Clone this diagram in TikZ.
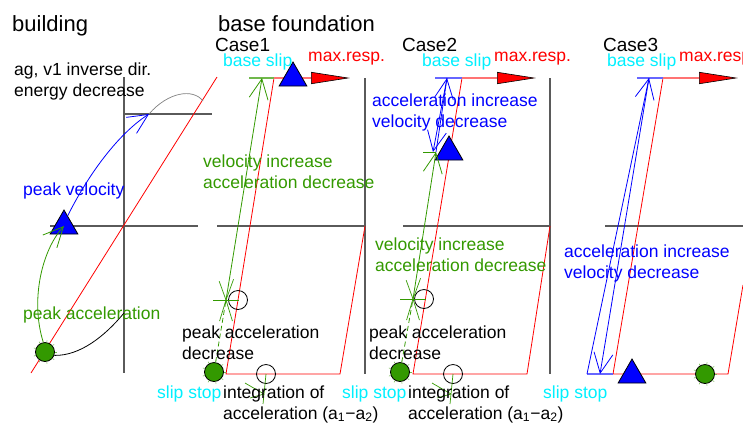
\documentclass[tikz,border=0pt]{standalone}
\usepackage{fontspec}
\setmainfont{Liberation Sans}
\usetikzlibrary{positioning, arrows.meta, calc, shapes.geometric}
\definecolor{axisgray}{RGB}{90,90,90}
\definecolor{accgreen}{RGB}{51,153,0}
\definecolor{slipcyan}{RGB}{0,240,255}

\newcommand{\sparkmark}[1]{%
  \foreach \a/\l in {0/13,180/13,73/22,107/22,250/20,290/22}
    \draw[accgreen, line width=0.7pt] (#1) -- ++(\a:\l);}

\begin{document}
\begin{tikzpicture}[
    x=1pt, y=-1pt,
    axis/.style={draw=axisgray, line width=1.3pt},
    resp/.style={draw=red, line width=0.8pt},
    toppath/.style={line width=2pt},
    lbl/.style={font=\fontsize{17.5}{21}\selectfont, inner sep=0pt,
                anchor=base west, align=left},
    ttl/.style={font=\fontsize{22}{26}\selectfont, inner sep=0pt,
                anchor=base west},
    casettl/.style={font=\fontsize{19}{22}\selectfont, inner sep=0pt,
                    anchor=base west},
    peak/.style={regular polygon, regular polygon sides=3, fill=blue,
                 draw=black, line width=0.8pt, minimum size=32pt, inner sep=0pt},
    ball/.style={circle, fill=accgreen, draw=black, line width=0.8pt,
                 minimum size=19pt, inner sep=0pt},
    ring/.style={circle, draw=black, line width=0.8pt, minimum size=19pt,
                 inner sep=0pt},
    barb/.style={-{Straight Barb[length=20pt, width=19pt]}},
    accarr/.style={barb, draw=accgreen, line width=0.8pt},
    velarr/.style={barb, draw=blue, line width=0.8pt},
    trail/.style={accgreen, line width=0.8pt, dash pattern=on 5pt off 3pt},
    maxresp/.style={draw=red!55, line width=2pt,
        -{Triangle[length=39pt, width=12pt, color=black, fill=red, line width=0.6pt]}},
]
\useasboundingbox (0,0) rectangle (743,424);

% ══════════════════════════════════════
%  BUILDING
% ══════════════════════════════════════

\node[ttl] (tbuild) at (12,31) {building};

\coordinate (bvt) at (124,77);
\coordinate (bvb) at (124,373);
\coordinate (bhl) at (124,114);
\coordinate (bhr) at (212,114);
\coordinate (bhv) at (149,114);
\coordinate (bml) at (50,226);
\coordinate (bmr) at (198,226);
\coordinate (brl) at (31,373);
\coordinate (bru) at (217,77);
\coordinate (bgr) at (203,101);
\coordinate (bacc) at (124,313);

\draw[axis] (bvt) -- (bvb);
\draw[axis] (bhl) -- (bhr);
\draw[axis] (bml) -- (bmr);
\draw[resp] (brl) -- (bru);

\node[peak] (bpeak) at (64,226) {};
\node[ball] (bball) at (45,352) {};

% velocity / acceleration paths
\draw[velarr] (bpeak.70) .. controls (88,175) and (118,134) .. (bhv);
\draw[gray, line width=0.7pt] (bhv) .. controls (168,92) and (193,88) .. (bgr);
\draw[accarr] (bball.100) .. controls (30,300) and (42,250) .. (bpeak.center);
\draw[black, line width=0.8pt] (bball.-20) .. controls (80,356) and (105,336) .. (bacc);

% multi-line labels sit on the baseline of their last line
\node[lbl] (tinv) at (14,96) {ag, v1 inverse dir.\\energy decrease};
\node[lbl, text=blue] (tpv) at (23,195) {peak velocity};
\node[lbl, text=accgreen] (tpa) at (23,319) {peak acceleration};

% ══════════════════════════════════════
%  BASE FOUNDATION: Case1
% ══════════════════════════════════════

\node[ttl] (tbase) at (218,31) {base foundation};
\node[casettl] (tc1) at (215,51) {Case1};

\coordinate (c1axl) at (217,226);
\coordinate (c1axr) at (365,226);
\coordinate (c1vt) at (365,78);
\coordinate (c1vb) at (365,374);
\coordinate (c1slip) at (249,78);
\coordinate (c1top) at (274,78);
\coordinate (c1bl) at (226,374);
\coordinate (c1br) at (340,374);
\coordinate (c1mx) at (350,78);
\coordinate (c1hit) at (262,78);
\coordinate (c1star) at (226,300);
\coordinate (c1sum) at (264,394);

\draw[axis] (c1axl) -- (c1axr);
\draw[axis] (c1vt) -- (c1vb);
\draw[resp] (c1top) -- (c1bl) -- (c1br) -- (c1axr);
\draw[toppath, draw=accgreen!70] (c1slip) -- (c1top);
\draw[maxresp] (c1top) -- (c1mx);

\node[peak] (c1peak) at (293,78) {};
\node[ball] (c1ball) at (214,372) {};
\node[ring] (c1ring) at (238,300) {};
\node[ring] (c1ring2) at (266,374) {};

\draw[trail] (c1ball) -- (c1star);
\draw[accarr] (c1star) -- (c1hit);
\sparkmark{c1star}
\draw[accgreen, line width=0.7pt] (c1sum) -- (c1ring2.center);
\draw[accgreen, line width=0.7pt] (c1sum) -- ++(-19,-11);
\draw[accgreen, line width=0.7pt] (c1sum) -- ++(-14,4);
\draw[accgreen, line width=0.7pt] (c1sum) -- ++(-1,10);

\node[lbl, text=slipcyan] (tc1slip) at (223,66) {base slip};
\node[lbl, text=red] (tc1max) at (308,61) {max.resp.};
\node[lbl, text=accgreen] (tc1vel) at (203,188) {velocity increase\\acceleration decrease};
\node[lbl] (tc1pk) at (182,359) {peak acceleration\\decrease};
\node[lbl, text=slipcyan] (tc1stop) at (157,398) {slip stop};
\node[lbl] (tc1int) at (223,419) {integration of\\acceleration (a\textsubscript{1}−a\textsubscript{2})};

% ══════════════════════════════════════
%  Case2
% ══════════════════════════════════════

\node[casettl] (tc2) at (402,51) {Case2};

\coordinate (c2axl) at (403,226);
\coordinate (c2axr) at (550,226);
\coordinate (c2vt) at (550,78);
\coordinate (c2vb) at (550,374);
\coordinate (c2slip) at (435,78);
\coordinate (c2hold) at (447,78);
\coordinate (c2top) at (462,78);
\coordinate (c2bl) at (413,374);
\coordinate (c2br) at (527,374);
\coordinate (c2mx) at (536,78);
\coordinate (c2hit) at (436,152);
\coordinate (c2hitl) at (423,152);
\coordinate (c2star) at (413,299);
\coordinate (c2sum) at (451,394);

\draw[axis] (c2axl) -- (c2axr);
\draw[axis] (c2vt) -- (c2vb);
\draw[resp] (c2top) -- (c2bl) -- (c2br) -- (c2axr);
\draw[toppath, draw=blue!60] (c2slip) -- (c2top);
\draw[maxresp] (c2top) -- (c2mx);

\node[peak] (c2peak) at (449,152) {};
\node[ball] (c2ball) at (400,372) {};
\node[ring] (c2ring) at (424,299) {};
\node[ring] (c2ring2) at (453,374) {};

\draw[trail] (c2ball) -- (c2star);
\draw[accarr] (c2star) -- (c2hit);
\draw[accgreen, line width=0.7pt] (c2hitl) -- (c2hit);
\sparkmark{c2star}
\draw[velarr] (c2hit) -- (c2hold);
\draw[velarr] (c2hold) -- ([xshift=-3pt]c2hit);
\draw[accgreen, line width=0.7pt] (c2sum) -- (c2ring2.center);
\draw[accgreen, line width=0.7pt] (c2sum) -- ++(-19,-11);
\draw[accgreen, line width=0.7pt] (c2sum) -- ++(-14,4);
\draw[accgreen, line width=0.7pt] (c2sum) -- ++(-1,10);

\node[lbl, text=slipcyan] (tc2slip) at (422,66) {base slip};
\node[lbl, text=red] (tc2max) at (494,61) {max.resp.};
\node[lbl, text=blue] (tc2acc) at (372,127) {acceleration increase\\velocity decrease};
\node[lbl, text=accgreen] (tc2vel) at (375,271) {velocity increase\\acceleration decrease};
\node[lbl] (tc2pk) at (369,359) {peak acceleration\\decrease};
\node[lbl, text=slipcyan] (tc2stop) at (342,398) {slip stop};
\node[lbl] (tc2int) at (408,419) {integration of\\acceleration (a\textsubscript{1}−a\textsubscript{2})};

% ══════════════════════════════════════
%  Case3
% ══════════════════════════════════════

\node[casettl] (tc3) at (603,51) {Case3};

\coordinate (c3axl) at (605,226);
\coordinate (c3axr) at (743,226);
\coordinate (c3slip) at (637,78);
\coordinate (c3hold) at (649,78);
\coordinate (c3top) at (663,78);
\coordinate (c3bl) at (613,374);
\coordinate (c3br) at (728,374);
\coordinate (c3edge) at (743,285);
\coordinate (c3mx) at (738,78);
\coordinate (c3back) at (587,374);
\coordinate (c3stop) at (600,374);

\draw[axis] (c3axl) -- (c3axr);
\draw[resp] (c3top) -- (c3bl) -- (c3br) -- (c3edge);
\draw[toppath, draw=blue!60] (c3slip) -- (c3top);
\draw[toppath, draw=blue!60] (c3back) -- (c3bl);
\draw[maxresp] (c3top) -- (c3mx);

\draw[velarr] (c3back) -- (c3hold);
\draw[velarr] (c3hold) -- (c3stop);

\node[peak] (c3peak) at (632,375) {};
\node[ball] (c3ball) at (705,374) {};

\node[lbl, text=slipcyan] (tc3slip) at (607,66) {base slip};
\node[lbl, text=red] (tc3max) at (679,61) {max.resp.};
\node[lbl, text=blue] (tc3acc) at (564,278) {acceleration increase\\velocity decrease};
\node[lbl, text=slipcyan] (tc3stop) at (543,398) {slip stop};

% small spikes on the green balls
\foreach \b in {bball, c1ball, c2ball, c3ball}
  \foreach \a in {0,40,...,320}
    \draw[accgreen!70, line width=0.5pt] (\b.\a) -- ($(\b.center)!1.2!(\b.\a)$);

\end{tikzpicture}
\end{document}
